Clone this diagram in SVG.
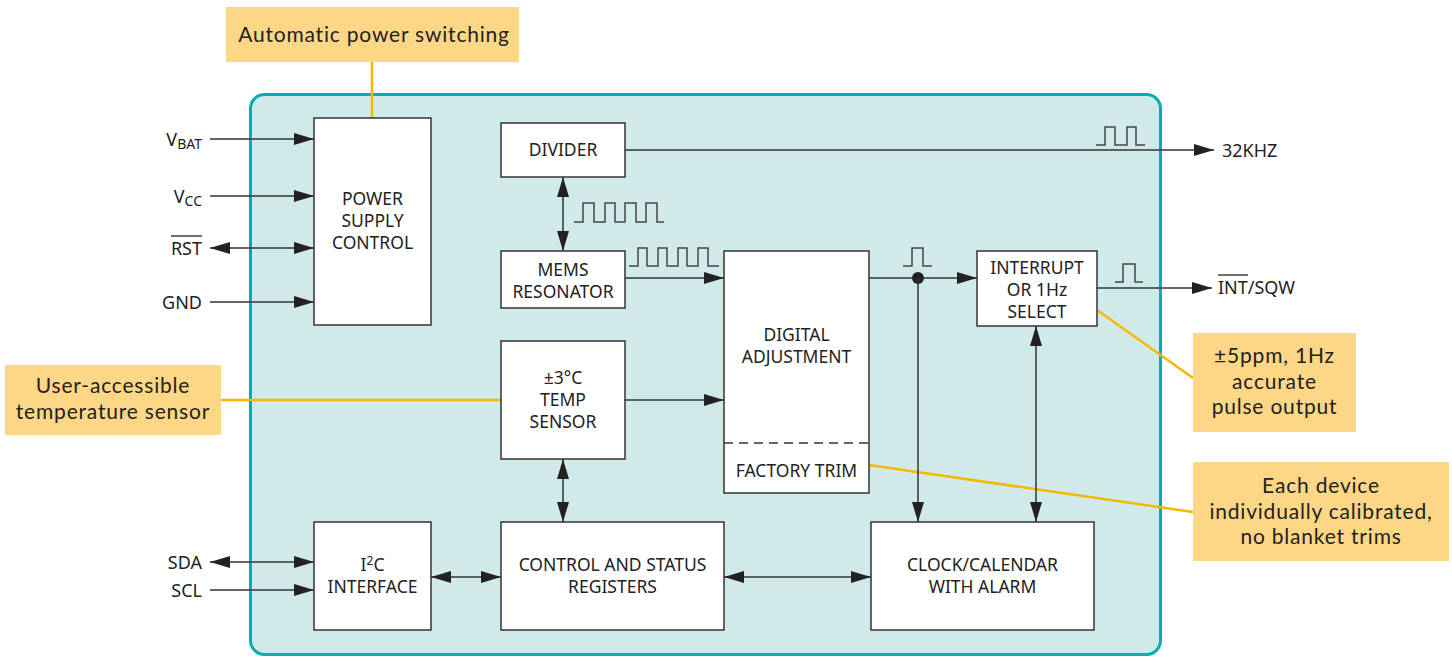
<svg xmlns="http://www.w3.org/2000/svg" width="1452" height="658" viewBox="0 0 1452 658">
<defs>
<style>
.box{fill:#fff;stroke:#333;stroke-width:1.5}
.lbl{font-family:"Noto Sans","Open Sans",sans-serif;font-size:17.5px;fill:#222;text-anchor:middle}
.pin{font-family:"Noto Sans","Open Sans",sans-serif;font-size:18px;fill:#222}
.call{fill:#fdd785}
.ctxt{font-family:Lato,"Open Sans",sans-serif;font-size:21px;letter-spacing:0.8px;fill:#222;text-anchor:middle}
.cl{stroke:#f5b800;stroke-width:2.5;fill:none}
.wire{stroke:#333;stroke-width:1.5;fill:none}
.wave{stroke:#444;stroke-width:1.5;fill:none}
.a{marker-end:url(#arr)}
.d{marker-start:url(#arr);marker-end:url(#arr)}
</style>
<marker id="arr" viewBox="0 0 20 12" refX="20" refY="6" markerWidth="20" markerHeight="12" markerUnits="userSpaceOnUse" orient="auto-start-reverse">
<path d="M0,0 L20,6 L0,12 z" fill="#222"/>
</marker>
</defs>
<rect width="1452" height="658" fill="#fff"/>

<g id="chip">
<rect x="250.5" y="94.5" width="910" height="560" rx="14" fill="#d0eaea" stroke="#00b0b0" stroke-width="3"/>
</g>

<g id="callouts">
<line class="cl" x1="372" y1="62" x2="372" y2="118"/>
<line class="cl" x1="221" y1="400" x2="501" y2="400"/>
<line class="cl" x1="1097" y1="310" x2="1193" y2="378"/>
<line class="cl" x1="869" y1="465" x2="1193" y2="512"/>
</g>

<g id="callout-power">
<rect class="call" x="226" y="7" width="293" height="55"/>
<text class="ctxt" x="374" y="41.5" font-size="22">Automatic power switching</text>
</g>
<g id="callout-temp">
<rect class="call" x="5" y="365" width="216" height="70"/>
<text class="ctxt" x="113" y="393">User-accessible</text>
<text class="ctxt" x="113" y="419">temperature sensor</text>
</g>
<g id="callout-pulse">
<rect class="call" x="1193" y="333" width="163" height="99"/>
<text class="ctxt" x="1274.5" y="363">±5ppm, 1Hz</text>
<text class="ctxt" x="1274.5" y="388.5">accurate</text>
<text class="ctxt" x="1274.5" y="414">pulse output</text>
</g>
<g id="callout-trim">
<rect class="call" x="1193" y="462" width="256" height="99"/>
<text class="ctxt" x="1321" y="493">Each device</text>
<text class="ctxt" x="1321" y="518.5">individually calibrated,</text>
<text class="ctxt" x="1321" y="544">no blanket trims</text>
</g>

<g id="connectors">
<line class="wire a" x1="210" y1="139" x2="314" y2="139"/>
<line class="wire a" x1="210" y1="196" x2="314" y2="196"/>
<line class="wire d" x1="210" y1="248" x2="314" y2="248"/>
<line class="wire a" x1="210" y1="302" x2="314" y2="302"/>
<line class="wire d" x1="563" y1="177" x2="563" y2="251"/>
<line class="wire a" x1="625" y1="150" x2="1214" y2="150"/>
<line class="wire a" x1="625" y1="278" x2="724" y2="278"/>
<line class="wire a" x1="869" y1="278" x2="977" y2="278"/>
<circle cx="918" cy="278" r="6" fill="#222"/>
<line class="wire a" x1="918" y1="278" x2="918" y2="522"/>
<line class="wire a" x1="1097" y1="288" x2="1212" y2="288"/>
<line class="wire a" x1="625" y1="400" x2="724" y2="400"/>
<line class="wire d" x1="1036" y1="326" x2="1036" y2="522"/>
<line class="wire d" x1="563" y1="459" x2="563" y2="522"/>
<line class="wire d" x1="210" y1="562" x2="314" y2="562"/>
<line class="wire a" x1="210" y1="590" x2="314" y2="590"/>
<line class="wire d" x1="431" y1="577" x2="501" y2="577"/>
<line class="wire d" x1="724" y1="577" x2="871" y2="577"/>
</g>

<g id="waveforms">
<polyline class="wave" points="574,222 583,222 583,203 594,203 594,222 605,222 605,203 615,203 615,222 625,222 625,203 636,203 636,222 646,222 646,203 657,203 657,222 664,222"/>
<polyline class="wave" points="629,266 638,266 638,248 647,248 647,266 658,266 658,248 667,248 667,266 678,266 678,248 687,248 687,266 698,266 698,248 708,248 708,266 719,266"/>
<polyline class="wave" points="903,266 912,266 912,248 923,248 923,266 932,266"/>
<polyline class="wave" points="1096,145 1105,145 1105,127 1115,127 1115,145 1127,145 1127,127 1136,127 1136,145 1145,145"/>
<polyline class="wave" points="1115,282 1123,282 1123,264 1135,264 1135,282 1143,282"/>
</g>

<g id="pins">
<text class="pin" x="202" y="146" text-anchor="end">V<tspan font-size="14" dy="3">BAT</tspan></text>
<text class="pin" x="202" y="203" text-anchor="end">V<tspan font-size="14" dy="3">CC</tspan></text>
<text class="pin" x="202" y="255" text-anchor="end">RST</text>
<line x1="171" y1="236" x2="202" y2="236" stroke="#222" stroke-width="1.3"/>
<text class="pin" x="202" y="309" text-anchor="end">GND</text>
<text class="pin" x="202" y="569" text-anchor="end">SDA</text>
<text class="pin" x="202" y="597" text-anchor="end">SCL</text>
<text class="pin" x="1222" y="157">32KHZ</text>
<text class="pin" x="1218" y="294">INT/SQW</text>
<line x1="1218" y1="275" x2="1248" y2="275" stroke="#222" stroke-width="1.3"/>
</g>

<g id="power">
<rect class="box" x="314" y="118" width="117" height="207"/>
<text class="lbl" x="372.5" y="205">POWER</text>
<text class="lbl" x="372.5" y="227">SUPPLY</text>
<text class="lbl" x="372.5" y="249">CONTROL</text>
</g>
<g id="divider">
<rect class="box" x="501" y="123" width="124" height="54"/>
<text class="lbl" x="563" y="156">DIVIDER</text>
</g>
<g id="mems">
<rect class="box" x="501" y="251" width="124" height="57"/>
<text class="lbl" x="563" y="276">MEMS</text>
<text class="lbl" x="563" y="298">RESONATOR</text>
</g>
<g id="digital">
<rect class="box" x="724" y="251" width="145" height="242"/>
<line x1="724" y1="443" x2="869" y2="443" stroke="#333" stroke-width="1.5" stroke-dasharray="9,6"/>
<text class="lbl" x="796.5" y="341">DIGITAL</text>
<text class="lbl" x="796.5" y="363">ADJUSTMENT</text>
<text class="lbl" x="796.5" y="477">FACTORY TRIM</text>
</g>
<g id="interrupt">
<rect class="box" x="977" y="251" width="120" height="75"/>
<text class="lbl" x="1037" y="274">INTERRUPT</text>
<text class="lbl" x="1037" y="296">OR 1Hz</text>
<text class="lbl" x="1037" y="318">SELECT</text>
</g>
<g id="temp">
<rect class="box" x="501" y="341" width="124" height="118"/>
<text class="lbl" x="563" y="384">±3°C</text>
<text class="lbl" x="563" y="406">TEMP</text>
<text class="lbl" x="563" y="428">SENSOR</text>
</g>
<g id="i2c">
<rect class="box" x="314" y="522" width="117" height="108"/>
<text class="lbl" x="372.5" y="571">I<tspan font-size="12" dy="-6">2</tspan><tspan dy="6">C</tspan></text>
<text class="lbl" x="372.5" y="593">INTERFACE</text>
</g>
<g id="control">
<rect class="box" x="501" y="522" width="223" height="108"/>
<text class="lbl" x="612.5" y="571">CONTROL AND STATUS</text>
<text class="lbl" x="612.5" y="593">REGISTERS</text>
</g>
<g id="clock">
<rect class="box" x="871" y="522" width="223" height="108"/>
<text class="lbl" x="982.5" y="571">CLOCK/CALENDAR</text>
<text class="lbl" x="982.5" y="593">WITH ALARM</text>
</g>
</svg>
